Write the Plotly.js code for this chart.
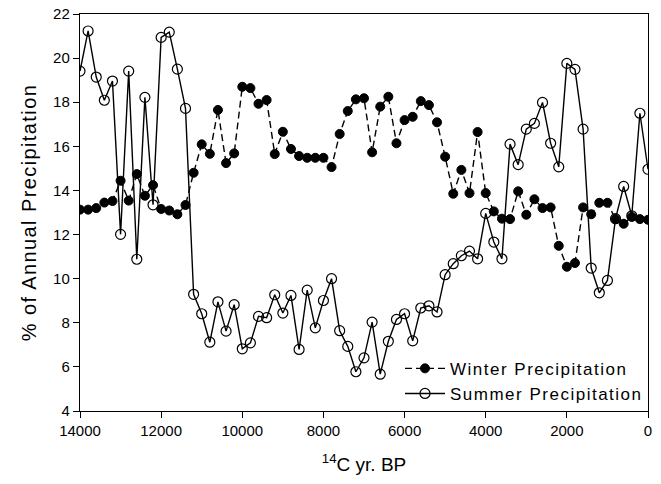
<!DOCTYPE html>
<html>
<head>
<meta charset="utf-8">
<script src="https://cdn.plot.ly/plotly-3.0.1.min.js"></script>
<style>
html,body{margin:0;padding:0;background:#fff;}
#chart{width:661px;height:484px;}
.legendtext{letter-spacing:1.5px;}
.ytitle{letter-spacing:1.4px;}
</style>
</head>
<body>
<div id="chart"></div>
<script>
// Years BP, 200-year steps from 14000 to 0
var years = [14000,13800,13600,13400,13200,13000,12800,12600,12400,12200,
             12000,11800,11600,11400,11200,11000,10800,10600,10400,10200,
             10000,9800,9600,9400,9200,9000,8800,8600,8400,8200,
             8000,7800,7600,7400,7200,7000,6800,6600,6400,6200,
             6000,5800,5600,5400,5200,5000,4800,4600,4400,4200,
             4000,3800,3600,3400,3200,3000,2800,2600,2400,2200,
             2000,1800,1600,1400,1200,1000,800,600,400,200,0];

var winter = [13.13,13.13,13.2,13.45,13.52,14.44,13.54,14.74,13.76,14.24,
              13.16,13.09,12.92,13.34,14.8,16.09,15.66,17.65,15.24,15.68,
              18.7,18.64,17.93,18.1,15.65,16.66,15.88,15.56,15.48,15.48,
              15.48,15.06,16.56,17.6,18.13,18.18,15.73,17.8,18.25,16.14,
              17.19,17.34,18.05,17.87,17.09,15.53,13.85,14.93,13.88,16.65,
              13.88,13.05,12.72,12.7,13.96,12.9,13.6,13.2,13.23,11.49,
              10.54,10.71,13.23,12.92,13.44,13.44,12.7,12.49,12.8,12.7,12.67];

var summer = [19.41,21.23,19.14,18.09,18.96,12.01,19.41,10.88,18.22,13.35,
              20.94,21.18,19.5,17.72,9.29,8.41,7.12,8.95,7.62,8.82,
              6.82,7.09,8.29,8.23,9.27,8.44,9.24,6.79,9.48,7.77,
              9.01,10.0,7.64,6.93,5.78,6.41,8.03,5.67,7.16,8.15,
              8.41,7.18,8.67,8.77,8.49,10.18,10.68,11.04,11.25,10.9,
              12.96,11.66,10.9,16.1,15.17,16.78,17.04,17.99,16.14,15.07,
              19.76,19.49,16.78,10.48,9.36,9.92,12.72,14.18,12.85,17.5,14.96];

var xTicks = [14000,12000,10000,8000,6000,4000,2000,0];
var yTicks = [4,6,8,10,12,14,16,18,20,22];

var fontFam = 'Arial, "Liberation Sans", sans-serif';

var traces = [
  {
    x: years, y: winter, name: 'Winter Precipitation', type: 'scatter', mode: 'lines+markers',
    line: {color: '#000', width: 1.4, dash: '7px,4px'},
    marker: {symbol: 'circle', size: 9, color: '#000', line: {color: '#000', width: 1}}
  },
  {
    x: years, y: summer, name: 'Summer Precipitation', type: 'scatter', mode: 'lines+markers',
    line: {color: '#000', width: 1.4},
    marker: {symbol: 'circle-open', size: 10, color: '#000', line: {color: '#000', width: 1.2}}
  }
];

var layout = {
  width: 661, height: 484,
  margin: {l: 80, r: 13, t: 14, b: 73},
  paper_bgcolor: '#fff', plot_bgcolor: '#fff',
  font: {family: fontFam, color: '#000', size: 15},
  showlegend: true,
  legend: {
    x: 1.0, y: -0.002, xanchor: 'right', yanchor: 'bottom',
    bgcolor: 'rgba(255,255,255,0)', borderwidth: 0,
    font: {family: fontFam, size: 17, color: '#000'},
    tracegroupgap: 0, itemwidth: 40
  },
  xaxis: {
    range: [14000, 0], autorange: false,
    tickmode: 'array', tickvals: xTicks, ticktext: xTicks.map(String),
    ticks: 'outside', ticklen: 6, tickwidth: 1, tickcolor: '#000',
    showline: true, linecolor: '#000', linewidth: 1.2, mirror: true,
    showgrid: false, zeroline: false,
    tickfont: {family: fontFam, size: 15, color: '#000'},
    title: {text: '<sup>14</sup>C yr. BP', font: {family: fontFam, size: 19, color: '#000'}, standoff: 19}
  },
  yaxis: {
    range: [4, 22], autorange: false,
    tickmode: 'array', tickvals: yTicks, ticktext: yTicks.map(String),
    ticks: 'outside', ticklen: 6, tickwidth: 1, tickcolor: '#000',
    showline: true, linecolor: '#000', linewidth: 1.2, mirror: true,
    showgrid: false, zeroline: false,
    tickfont: {family: fontFam, size: 15, color: '#000'},
    title: {text: '% of Annual Precipitation', font: {family: fontFam, size: 20, color: '#000'}, standoff: 11}
  }
};

Plotly.newPlot('chart', traces, layout, {displayModeBar: false, staticPlot: true});
</script>
</body>
</html>
